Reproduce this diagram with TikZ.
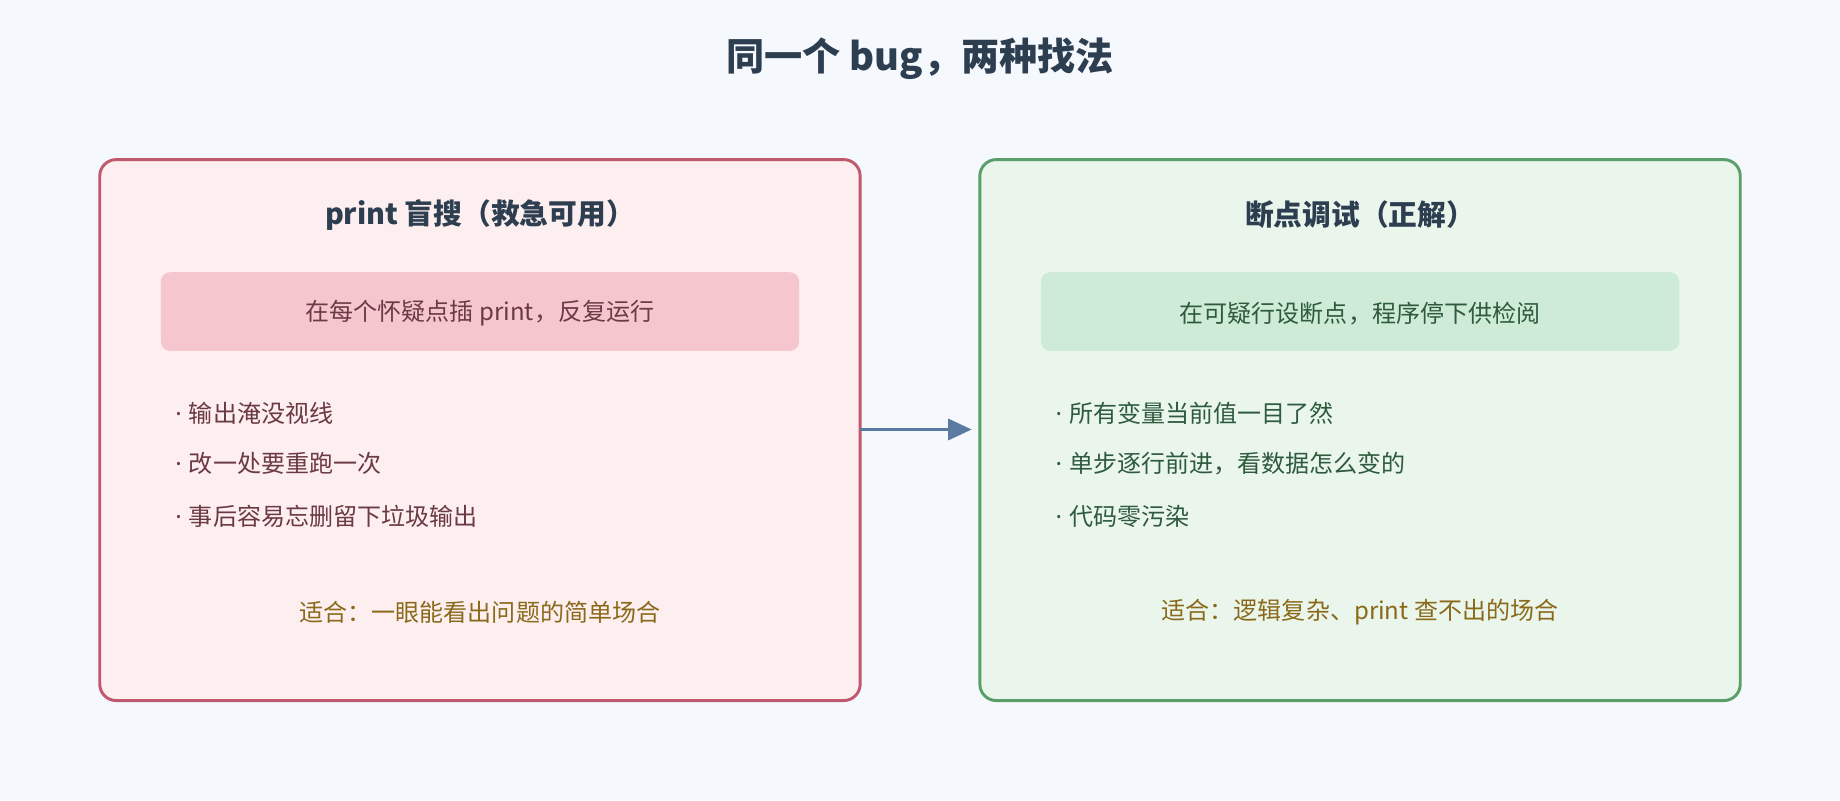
\documentclass[tikz,border=0pt]{standalone}
\usepackage{fontspec}
\setmainfont{Noto Sans CJK SC}
\newfontfamily\lat{Noto Sans}
\usetikzlibrary{arrows.meta}
\definecolor{bg}{HTML}{F5F9FD}
\definecolor{ttl}{HTML}{2C3E50}
\definecolor{rb}{HTML}{C0586E}\definecolor{rf}{HTML}{FDEEF0}\definecolor{ri}{HTML}{F5C6CD}\definecolor{rt}{HTML}{6B3A44}
\definecolor{gb}{HTML}{5A9E6A}\definecolor{gf}{HTML}{EAF6EC}\definecolor{gi}{HTML}{CDEBD6}\definecolor{gt}{HTML}{2E5A3E}
\definecolor{ft}{HTML}{8A6A1A}\definecolor{ar}{HTML}{5A7AA0}
\newcommand{\bdot}{{\lat·}\hspace{6pt}}
\begin{document}
\begin{tikzpicture}[x=1pt,y=-1pt,
 box/.style={draw=#1,line width=2.5pt,rounded corners=14pt},
 head/.style={font=\fontsize{24.5}{28}\selectfont\bfseries,text=ttl},
 inner/.style={rounded corners=8pt,fill=#1},
 body/.style={font=\fontsize{20.5}{24}\selectfont,text=#1},
 bl/.style={font=\fontsize{20.5}{24}\selectfont,text=#1,anchor=west}]
\fill[bg] (0,0) rectangle (1568,682);
\useasboundingbox (0,0) rectangle (1568,682);
\node[font=\fontsize{32.5}{36}\selectfont\bfseries,text=ttl] (title) at (784,50) {同一个 bug，两种找法};
% left
\draw[box=rb,fill=rf] (85,136) rectangle (733,597);
\coordinate (L) at (733,366);
\node[head] (lh) at (409,183) {print 盲搜（救急可用）};
\fill[inner=ri] (137,232) rectangle (681,299);
\node[body=rt] (li) at (409,267) {在每个怀疑点插 print，反复运行};
\node[bl=rt] (l1) at (146,352) {\bdot 输出淹没视线};
\node[bl=rt] (l2) at (146,395) {\bdot 改一处要重跑一次};
\node[bl=rt] (l3) at (146,440) {\bdot 事后容易忘删留下垃圾输出};
\node[body=ft] (lf) at (409,522) {适合：一眼能看出问题的简单场合};
% right
\draw[box=gb,fill=gf] (835,136) rectangle (1483,597);
\coordinate (R) at (828,366);
\node[head] (rh) at (1159,183) {断点调试（正解）};
\fill[inner=gi] (887,232) rectangle (1431,299);
\node[body=gt] (ri) at (1159,267) {在可疑行设断点，程序停下供检阅};
\node[bl=gt] (r1) at (896,352) {\bdot 所有变量当前值一目了然};
\node[bl=gt] (r2) at (896,395) {\bdot 单步逐行前进，看数据怎么变的};
\node[bl=gt] (r3) at (896,440) {\bdot 代码零污染};
\node[body=ft] (rf) at (1159,522) {适合：逻辑复杂、print 查不出的场合};
\draw[ar,line width=2.5pt,-{Triangle[length=20pt,width=18pt]}] (L) -- (R);
\end{tikzpicture}
\end{document}
